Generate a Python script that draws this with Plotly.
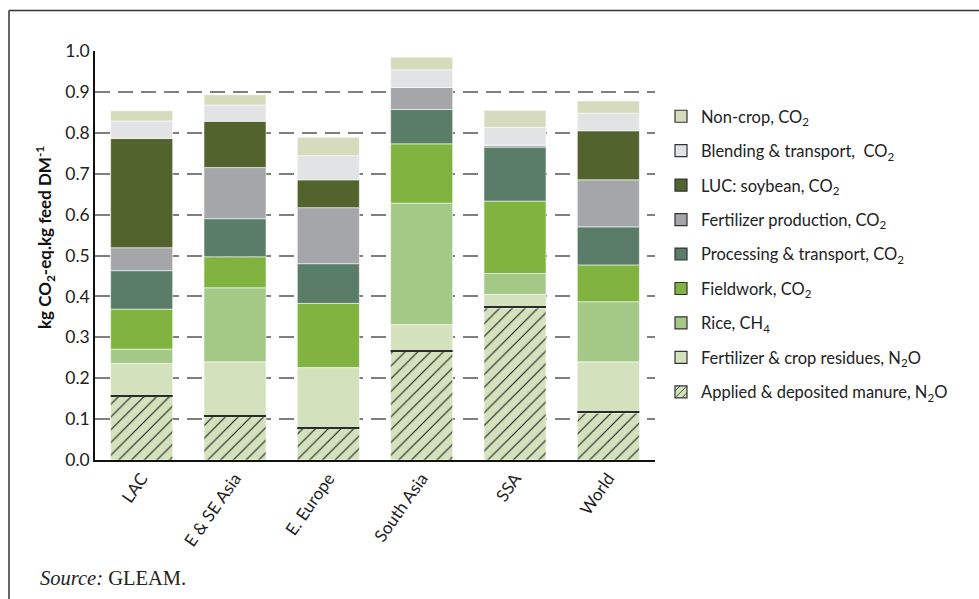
import numpy as np
import plotly.graph_objects as go

# Feed emission intensity by region (kg CO2-eq per kg feed dry matter)
regions = ["LAC", "E & SE Asia", "E. Europe", "South Asia", "SSA", "World"]

manure = [0.156, 0.106, 0.077, 0.266, 0.372, 0.115]
fert_residues = [0.080, 0.134, 0.149, 0.065, 0.033, 0.125]
rice = [0.035, 0.181, 0.000, 0.297, 0.051, 0.147]
fieldwork = [0.098, 0.076, 0.157, 0.145, 0.177, 0.090]
processing = [0.094, 0.093, 0.097, 0.084, 0.132, 0.093]
fert_production = [0.056, 0.125, 0.137, 0.054, 0.005, 0.115]
luc_soybean = [0.267, 0.113, 0.068, 0.000, 0.000, 0.120]
blending = [0.043, 0.040, 0.059, 0.043, 0.043, 0.043]
non_crop = [0.025, 0.025, 0.045, 0.031, 0.042, 0.030]

y_ticks = [0.0, 0.1, 0.2, 0.3, 0.4, 0.5, 0.6, 0.7, 0.8, 0.9, 1.0]

# stacking order, bottom to top
series = [
    ("Applied & deposited manure, N<sub>2</sub>O", manure, "#D3E2BC"),
    ("Fertilizer & crop residues, N<sub>2</sub>O", fert_residues, "#D3E2BC"),
    ("Rice, CH<sub>4</sub>", rice, "#A4C987"),
    ("Fieldwork, CO<sub>2</sub>", fieldwork, "#80B340"),
    ("Processing & transport, CO<sub>2</sub>", processing, "#5A7D6A"),
    ("Fertilizer production, CO<sub>2</sub>", fert_production, "#A5A6A9"),
    ("LUC: soybean, CO<sub>2</sub>", luc_soybean, "#52632E"),
    ("Blending & transport,  CO<sub>2</sub>", blending, "#E2E3E5"),
    ("Non-crop, CO<sub>2</sub>", non_crop, "#D7DBBE"),
]

# layout geometry in pixels
W, H = 979, 599
L, R, T, B = 95, 655, 51, 460
pw, ph = R - L, B - T


def px_x(x):
    return (x - L) / pw


def px_y(y):
    return (B - y) / ph


def hatch(color, size, solidity):
    return dict(shape="/", fgcolor="#111111", fgopacity=1, bgcolor=color,
                size=size, solidity=solidity, fillmode="replace")


values = np.array([s[1] for s in series])
bases = np.vstack([np.zeros(len(regions)), np.cumsum(values, axis=0)[:-1]])

fig = go.Figure()

for i, (name, vals, color) in enumerate(series):
    marker = dict(color=color, line=dict(width=0.8, color="rgba(255,255,255,0.7)"))
    if i == 0:
        marker["pattern"] = hatch(color, 9, 0.11)
    fig.add_trace(go.Bar(
        x=regions, y=vals, base=bases[i], marker=marker,
        name=name, showlegend=False, hoverinfo="skip",
    ))

# dark edge along the top of the manure segment
fig.add_trace(go.Bar(
    x=regions, y=[0.003] * len(regions), base=manure,
    marker=dict(color="#2b2b2b", line=dict(width=0)),
    showlegend=False, hoverinfo="skip",
))

# legend entries with outlined swatches, listed top to bottom
for k, i in enumerate(reversed(range(len(series)))):
    name, vals, color = series[i]
    marker = dict(color=color, line=dict(width=1.2, color="#333333"))
    if i == 0:
        marker["pattern"] = hatch(color, 6, 0.15)
    fig.add_trace(go.Bar(
        x=[regions[0]], y=[None], marker=marker, name=name,
        legendgroup=f"g{k}", showlegend=True,
    ))

font_main = "Lato, 'Open Sans', sans-serif"

fig.update_layout(
    width=W, height=H,
    margin=dict(l=L, r=W - R, t=T, b=H - B, pad=0),
    paper_bgcolor="white", plot_bgcolor="white",
    barmode="overlay", bargap=0.335,
    font=dict(family=font_main, size=15, color="#222222"),
    legend=dict(
        x=px_x(661), y=px_y(99), xanchor="left", yanchor="top",
        traceorder="grouped", tracegroupgap=10,
        font=dict(family=font_main, size=16.5, color="#222222"),
        bgcolor="rgba(0,0,0,0)", itemclick=False, itemdoubleclick=False,
    ),
    xaxis=dict(
        showline=True, linecolor="#111111", linewidth=1.5,
        ticks="", tickangle=-55, showgrid=False,
        tickfont=dict(family=font_main, size=17, color="#222222"),
    ),
    yaxis=dict(
        range=[0, 1.0], tickvals=y_ticks, tickformat=".1f",
        showline=True, linecolor="#111111", linewidth=1.5,
        ticks="", zeroline=False,
        showgrid=True, gridcolor="#7f7f7f", gridwidth=1.5, griddash="15px,8px",
        tickfont=dict(family=font_main, size=17.5, color="#222222"),
    ),
    annotations=[
        dict(
            text="<b>kg CO<sub>2</sub>-eq.kg feed DM<sup>-1</sup></b>",
            xref="paper", yref="paper", x=px_x(45), y=px_y(238),
            xanchor="center", yanchor="middle", textangle=-90, showarrow=False,
            font=dict(family=font_main, size=17, color="#111111"),
        ),
        dict(
            text="<i>Source:</i> GLEAM.",
            xref="paper", yref="paper", x=px_x(38), y=px_y(578),
            xanchor="left", yanchor="middle", showarrow=False,
            font=dict(family="'Liberation Serif', serif", size=20.5, color="#222222"),
        ),
    ],
    shapes=[
        dict(type="line", xref="paper", yref="paper",
             x0=px_x(9), x1=px_x(W + 2), y0=px_y(10.5), y1=px_y(10.5),
             line=dict(color="#333333", width=1.5)),
        dict(type="line", xref="paper", yref="paper",
             x0=px_x(9), x1=px_x(9), y0=px_y(10.5), y1=px_y(H + 2),
             line=dict(color="#333333", width=1.5)),
    ],
)

fig.write_html("out.html")
